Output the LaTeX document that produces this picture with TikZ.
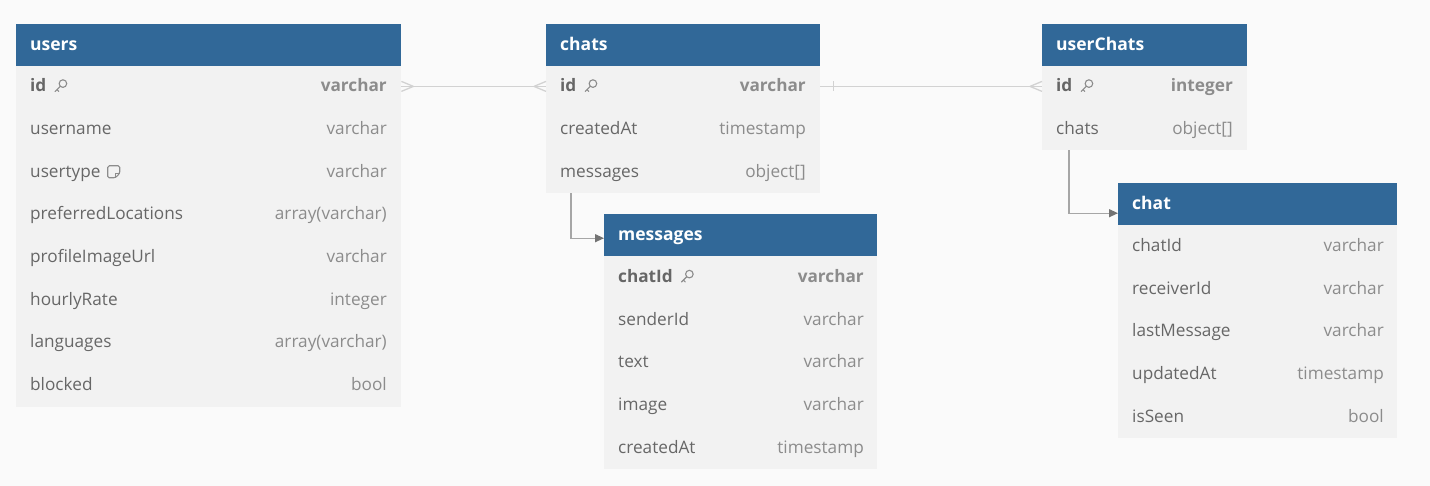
\documentclass[tikz,border=0pt]{standalone}
\usepackage{fontspec}
\setmainfont{Open Sans}
\usetikzlibrary{arrows.meta}
\definecolor{bg}{HTML}{FAFAFA}
\definecolor{hdrblue}{HTML}{316898}
\definecolor{bodyfill}{HTML}{F2F2F2}
\definecolor{nametxt}{HTML}{676767}
\definecolor{typetxt}{HTML}{8C8C8C}
\definecolor{keytxt}{HTML}{666666}
\definecolor{reline}{HTML}{D2D2D2}
\definecolor{nestline}{HTML}{A6A6A6}
\tikzset{
  hdr/.style={fill=hdrblue, draw=none, anchor=north west, inner sep=0pt, minimum height=42pt},
  hdrtxt/.style={anchor=base west, text=white, inner sep=0pt, font=\fontsize{17.5}{20}\selectfont\bfseries},
  tbody/.style={fill=bodyfill, draw=none, anchor=north west, inner sep=0pt},
  fname/.style={anchor=base west, inner sep=0pt, text=nametxt, font=\fontsize{17.2}{20}\selectfont},
  ftype/.style={anchor=base east, inner sep=0pt, text=typetxt, font=\fontsize{17.2}{20}\selectfont},
  fkname/.style={fname, text=keytxt, font=\fontsize{17.2}{20}\selectfont\bfseries},
  fktype/.style={ftype, font=\fontsize{17.2}{20}\selectfont\bfseries},
  rel/.style={draw=reline, line width=1.3pt},
  nest/.style={draw=nestline, line width=1.2pt, -{Triangle[length=9pt,width=8pt,fill=gray!90!black,color=gray!90!black]}},
  keyicon/.pic={
    \draw[typetxt, line width=1.1pt] (2.4pt,2.4pt) circle [radius=3.8pt];
    \draw[typetxt, line width=1.1pt, line cap=round] (-0.3pt,-0.3pt) -- (-5.4pt,-5.4pt) (-3.6pt,-3.6pt) -- (-1.7pt,-5.5pt);
  },
  noteicon/.pic={
    \draw[typetxt, line width=1.1pt, rounded corners=1.5pt] (-6,-6) -- (6,-6) -- (6,1.5) -- (1.5,6) -- (-6,6) -- cycle;
    \draw[typetxt, line width=1pt] (6,1.5) -- (1.5,1.5) -- (1.5,6);
  }
}
\begin{document}
\begin{tikzpicture}[x=1pt, y=-1pt]
\useasboundingbox (0,0) rectangle (1430,486);
\fill[bg] (0,0) rectangle (1430,486);

% ---------- users ----------
\node[tbody, minimum width=385pt, minimum height=341pt] (usersbody) at (16,66) {};
\node[hdr, minimum width=385pt] (usershdr) at (16,24) {};
\node[hdrtxt] (usersname) at (30,51) {users};
\node[fkname] (users-id) at (30,92) {id};
\node[fktype] (users-id-t) at (387,92) {varchar};
\pic at ([xshift=14pt,yshift=6pt]users-id.base east) {keyicon};
\node[fname] (users-un) at (30,134.7) {username};
\node[ftype] (users-un-t) at (387,134.7) {varchar};
\node[fname] (users-ut) at (30,177.3) {usertype};
\node[ftype] (users-ut-t) at (387,177.3) {varchar};
\pic at ([xshift=13pt,yshift=5.5pt]users-ut.base east) {noteicon};
\node[fname] (users-pl) at (30,220) {preferredLocations};
\node[ftype] (users-pl-t) at (387,220) {array(varchar)};
\node[fname] (users-pi) at (30,262.6) {profileImageUrl};
\node[ftype] (users-pi-t) at (387,262.6) {varchar};
\node[fname] (users-hr) at (30,305.2) {hourlyRate};
\node[ftype] (users-hr-t) at (387,305.2) {integer};
\node[fname] (users-la) at (30,347.8) {languages};
\node[ftype] (users-la-t) at (387,347.8) {array(varchar)};
\node[fname] (users-bl) at (30,390.4) {blocked};
\node[ftype] (users-bl-t) at (387,390.4) {bool};

% ---------- chats ----------
\node[tbody, minimum width=274pt, minimum height=127pt] (chatsbody) at (546,66) {};
\node[hdr, minimum width=274pt] (chatshdr) at (546,24) {};
\node[hdrtxt] (chatsname) at (560,51) {chats};
\node[fkname] (chats-id) at (560,92) {id};
\node[fktype] (chats-id-t) at (806,92) {varchar};
\pic at ([xshift=14pt,yshift=6pt]chats-id.base east) {keyicon};
\node[fname] (chats-ca) at (560,134.7) {createdAt};
\node[ftype] (chats-ca-t) at (806,134.7) {timestamp};
\node[fname] (chats-ms) at (560,177.3) {messages};
\node[ftype] (chats-ms-t) at (806,177.3) {object[]};

% ---------- userChats ----------
\node[tbody, minimum width=205pt, minimum height=84pt] (ucbody) at (1042,66) {};
\node[hdr, minimum width=205pt] (uchdr) at (1042,24) {};
\node[hdrtxt] (ucname) at (1056,51) {userChats};
\node[fkname] (uc-id) at (1056,92) {id};
\node[fktype] (uc-id-t) at (1233,92) {integer};
\pic at ([xshift=14pt,yshift=6pt]uc-id.base east) {keyicon};
\node[fname] (uc-ch) at (1056,134.7) {chats};
\node[ftype] (uc-ch-t) at (1233,134.7) {object[]};

% ---------- messages ----------
\node[tbody, minimum width=273pt, minimum height=213pt] (msgbody) at (604,256) {};
\node[hdr, minimum width=273pt] (msghdr) at (604,214) {};
\node[hdrtxt] (msgname) at (618,241) {messages};
\node[fkname] (msg-ci) at (618,282.5) {chatId};
\node[fktype] (msg-ci-t) at (864,282.5) {varchar};
\pic at ([xshift=14pt,yshift=6pt]msg-ci.base east) {keyicon};
\node[fname] (msg-si) at (618,325.1) {senderId};
\node[ftype] (msg-si-t) at (864,325.1) {varchar};
\node[fname] (msg-tx) at (618,367.8) {text};
\node[ftype] (msg-tx-t) at (864,367.8) {varchar};
\node[fname] (msg-im) at (618,410.4) {image};
\node[ftype] (msg-im-t) at (864,410.4) {varchar};
\node[fname] (msg-ca) at (618,453) {createdAt};
\node[ftype] (msg-ca-t) at (864,453) {timestamp};

% ---------- chat ----------
\node[tbody, minimum width=279pt, minimum height=213pt] (chatbody) at (1118,225) {};
\node[hdr, minimum width=279pt] (chathdr) at (1118,183) {};
\node[hdrtxt] (chatname) at (1132,210) {chat};
\node[fname] (chat-ci) at (1132,251.5) {chatId};
\node[ftype] (chat-ci-t) at (1384,251.5) {varchar};
\node[fname] (chat-ri) at (1132,294.1) {receiverId};
\node[ftype] (chat-ri-t) at (1384,294.1) {varchar};
\node[fname] (chat-lm) at (1132,336.8) {lastMessage};
\node[ftype] (chat-lm-t) at (1384,336.8) {varchar};
\node[fname] (chat-ua) at (1132,379.4) {updatedAt};
\node[ftype] (chat-ua-t) at (1384,379.4) {timestamp};
\node[fname] (chat-is) at (1132,422) {isSeen};
\node[ftype] (chat-is-t) at (1384,422) {bool};

% ---------- relations ----------
\coordinate (p0) at (usersbody.east |- usershdr.south);
\coordinate (p1) at ([yshift=-20pt]p0);
\coordinate (p2) at (chatsbody.west |- p1);
\coordinate (p3) at (chatsbody.east |- p1);
\coordinate (p4) at (ucbody.west |- p1);
\draw[rel] (p1) -- (p2);
\draw[rel] ([xshift=12pt]p1) -- ([yshift=5pt]p1) ([xshift=12pt]p1) -- ([yshift=-5pt]p1);
\draw[rel] ([xshift=-12pt]p2) -- ([yshift=5pt]p2) ([xshift=-12pt]p2) -- ([yshift=-5pt]p2);
\draw[rel] (p3) -- (p4);
\draw[rel] ([xshift=13pt,yshift=5pt]p3) -- ([xshift=13pt,yshift=-5pt]p3);
\draw[rel] ([xshift=-12pt]p4) -- ([yshift=5pt]p4) ([xshift=-12pt]p4) -- ([yshift=-5pt]p4);

% ---------- nested ----------
\coordinate (n1) at ([xshift=25pt]chatsbody.south west);
\coordinate (n2) at ([yshift=-3pt]msghdr.west);
\draw[nest] (n1) |- (n2);
\coordinate (n3) at ([xshift=27pt]ucbody.south west);
\coordinate (n4) at ([yshift=-9pt]chathdr.west);
\draw[nest] (n3) |- (n4);
\end{tikzpicture}
\end{document}
